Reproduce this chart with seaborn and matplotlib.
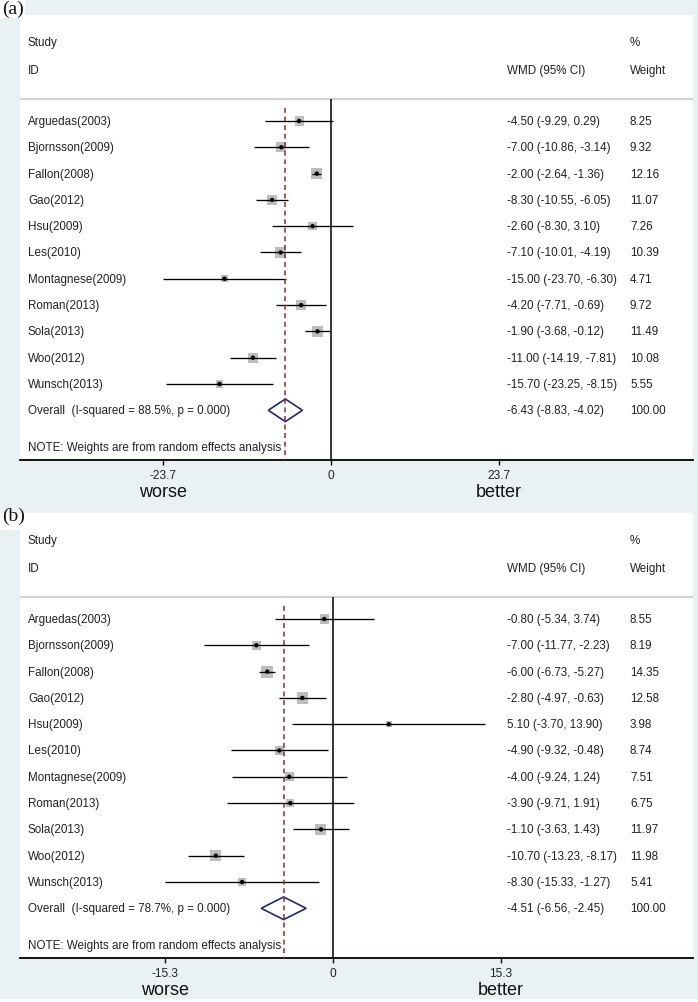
import matplotlib
matplotlib.use("Agg")
import matplotlib.pyplot as plt
from matplotlib.patches import Rectangle, Polygon
from matplotlib.transforms import blended_transform_factory
import numpy as np
import pandas as pd
import seaborn as sns

# ---------------- data ----------------
studies = ["Arguedas(2003)", "Bjornsson(2009)", "Fallon(2008)", "Gao(2012)", "Hsu(2009)",
           "Les(2010)", "Montagnese(2009)", "Roman(2013)", "Sola(2013)", "Woo(2012)", "Wunsch(2013)"]

a_es = [-4.50, -7.00, -2.00, -8.30, -2.60, -7.10, -15.00, -4.20, -1.90, -11.00, -15.70]
a_lo = [-9.29, -10.86, -2.64, -10.55, -8.30, -10.01, -23.70, -7.71, -3.68, -14.19, -23.25]
a_hi = [0.29, -3.14, -1.36, -6.05, 3.10, -4.19, -6.30, -0.69, -0.12, -7.81, -8.15]
a_w = [8.25, 9.32, 12.16, 11.07, 7.26, 10.39, 4.71, 9.72, 11.49, 10.08, 5.55]
a_overall = [-6.43, -8.83, -4.02]
a_i2 = 88.5
a_ticks = [-23.7, 0, 23.7]

b_es = [-0.80, -7.00, -6.00, -2.80, 5.10, -4.90, -4.00, -3.90, -1.10, -10.70, -8.30]
b_lo = [-5.34, -11.77, -6.73, -4.97, -3.70, -9.32, -9.24, -9.71, -3.63, -13.23, -15.33]
b_hi = [3.74, -2.23, -5.27, -0.63, 13.90, -0.48, 1.24, 1.91, 1.43, -8.17, -1.27]
b_w = [8.55, 8.19, 14.35, 12.58, 3.98, 8.74, 7.51, 6.75, 11.97, 11.98, 5.41]
b_overall = [-4.51, -6.56, -2.45]
b_i2 = 78.7
b_ticks = [-15.3, 0, 15.3]

# ---------------- style ----------------
sns.set_style("white")
plt.rcParams["font.family"] = ["Liberation Sans", "DejaVu Sans"]

W, H = 698, 1003
fig = plt.figure(figsize=(W / 100, H / 100), dpi=100)
fig.patch.set_facecolor("white")

GRAY_BG = "#EAF1F3"
TXT = "#222222"
BOX = "#BDBDBD"
RED = "#8E2C2C"
NAVY = "#1E2A78"
FS = 8.35


def fig_rect(x0, y0, x1, y1, color):
    fig.add_artist(Rectangle((x0 / W, 1 - y1 / H), (x1 - x0) / W, (y1 - y0) / H,
                             transform=fig.transFigure, facecolor=color,
                             edgecolor="none", zorder=0))


def panel(top, label, es, lo, hi, w, overall, i2, ticks, xlim, bottom_bg):
    # graph region background
    fig_rect(0, top, W, bottom_bg, GRAY_BG)
    fig_rect(0, top + (0 if label == "(a)" else 16), 25, top + (19 if label == "(a)" else 33), "white")
    fig.text(2 / W, 1 - (top + (9 if label == "(a)" else 18)) / H, label,
             family=["Liberation Serif", "DejaVu Serif"], fontsize=14, va="center",
             ha="left", color="#111111")

    ax = fig.add_axes([20 / W, 1 - (top + 461) / H, 673 / W, 445 / H])
    ax.set_facecolor("white")
    n = len(es)
    rows = np.arange(n)
    ybot, ytop = 12.89, -4.03
    ax.set_xlim(*xlim)
    ax.set_ylim(ybot, ytop)

    df = pd.DataFrame({"study": studies, "es": es, "lo": lo, "hi": hi, "w": w, "row": rows})

    # weight boxes (area proportional to weight)
    wmin, wmax = min(w), max(w)
    sns.scatterplot(data=df, x="es", y="row", size="w", sizes=(5.2 * wmin, 5.2 * wmax),
                    size_norm=(wmin, wmax), marker="s", color=BOX, edgecolor="none",
                    legend=False, ax=ax, zorder=2)
    # CI lines
    ax.hlines(df["row"], df["lo"], df["hi"], color="black", lw=0.95, zorder=3)
    # centre dots
    sns.scatterplot(data=df, x="es", y="row", color="black", s=10, edgecolor="none",
                    legend=False, ax=ax, zorder=4)

    # separator and reference lines
    ax.axhline(-0.84, color="#C9C9C9", lw=1.2, zorder=1)
    ax.vlines(0, -0.84, ybot, color="black", lw=1.1, zorder=3)
    ax.vlines(overall[0], -0.5, ybot, color=RED, lw=1.1, linestyles=(0, (3.2, 2.4)), zorder=5)

    # diamond
    r = n
    hh = 0.43
    ax.add_patch(Polygon([[overall[1], r], [overall[0], r - hh], [overall[2], r], [overall[0], r + hh]],
                         closed=True, facecolor="none", edgecolor=NAVY, lw=1.2, zorder=4))

    # text columns
    tr = blended_transform_factory(ax.transAxes, ax.transData)
    xs, xw, xp = 8 / 673, 487 / 673, 610 / 673
    kw = dict(transform=tr, fontsize=FS, color=TXT, va="center", ha="left")
    ax.text(xs, -3.0, "Study", **kw)
    ax.text(xs, -1.95, "ID", **kw)
    ax.text(xw, -1.95, "WMD (95% CI)", **kw)
    ax.text(xp, -3.0, "%", **kw)
    ax.text(xp, -1.95, "Weight", **kw)
    for i in range(n):
        ax.text(xs, i, studies[i], **kw)
        ax.text(xw, i, f"{es[i]:.2f} ({lo[i]:.2f}, {hi[i]:.2f})", **kw)
        ax.text(xp, i, f"{w[i]:.2f}", **kw)
    ax.text(xs, r, f"Overall  (I-squared = {i2:.1f}%, p = 0.000)", **kw)
    ax.text(xw, r, f"{overall[0]:.2f} ({overall[1]:.2f}, {overall[2]:.2f})", **kw)
    ax.text(xp, r, "100.00", **kw)
    ax.text(xs, 12.4, "NOTE: Weights are from random effects analysis", **kw)

    # axes styling
    for s in ["top", "left", "right"]:
        ax.spines[s].set_visible(False)
    ax.spines["bottom"].set_color("black")
    ax.spines["bottom"].set_linewidth(1.3)
    ax.set_yticks([])
    ax.set_xticks(ticks)
    ax.set_xticklabels([f"{t:g}" for t in ticks])
    ax.tick_params(axis="x", length=3.8, width=1.0, color="black", pad=3,
                   labelsize=8.6, labelcolor=TXT, bottom=True)
    ax.set_xlabel("")
    ax.set_ylabel("")

    ax.annotate("worse", xy=(ticks[0], 0), xycoords=("data", "axes fraction"),
                xytext=(0, -32), textcoords="offset pixels", ha="center", va="center",
                fontsize=13, color="#111111", annotation_clip=False)
    ax.annotate("better", xy=(ticks[-1], 0), xycoords=("data", "axes fraction"),
                xytext=(0, -32), textcoords="offset pixels", ha="center", va="center",
                fontsize=13, color="#111111", annotation_clip=False)
    return ax


panel(0, "(a)", a_es, a_lo, a_hi, a_w, a_overall, a_i2, a_ticks,
      ((20 - 331) / 7.1, (693 - 331) / 7.1), 498)
panel(498, "(b)", b_es, b_lo, b_hi, b_w, b_overall, b_i2, b_ticks,
      ((20 - 333) / 10.95, (693 - 333) / 10.95), 1000)

fig.savefig("out.png", dpi=100)
